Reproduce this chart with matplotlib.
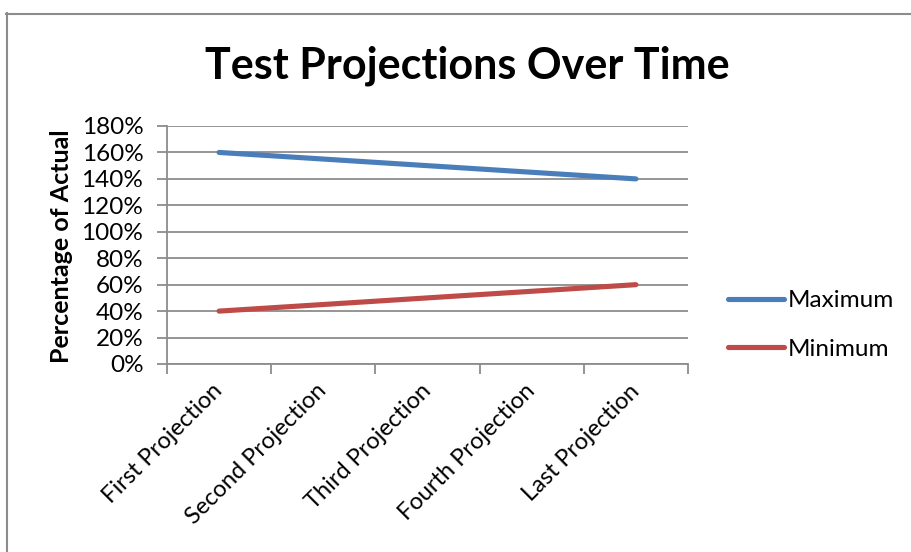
import matplotlib.pyplot as plt
from matplotlib.lines import Line2D
from matplotlib.ticker import FuncFormatter, MultipleLocator

categories = ["First Projection", "Second Projection", "Third Projection",
              "Fourth Projection", "Last Projection"]
maximum = [1.60, 1.55, 1.50, 1.45, 1.40]
minimum = [0.40, 0.45, 0.50, 0.55, 0.60]

plt.rcParams['font.family'] = ['Lato', 'DejaVu Sans']

fig = plt.figure(figsize=(9.11, 5.52), dpi=100)
ax = fig.add_axes([167 / 911, 1 - 364 / 552, 521 / 911, 238 / 552])

x = range(len(categories))
ax.plot(x, maximum, color="#4a7ebb", lw=3.7, solid_capstyle="round", label="Maximum", zorder=3)
ax.plot(x, minimum, color="#be4b48", lw=3.7, solid_capstyle="round", label="Minimum", zorder=3)

ax.set_xlim(-0.5, len(categories) - 0.5)
ax.set_ylim(0, 1.8)
ax.yaxis.set_major_locator(MultipleLocator(0.2))
ax.yaxis.set_major_formatter(FuncFormatter(lambda v, p: f"{v * 100:.0f}%"))
ax.grid(axis="y", color="#8c8c8c", lw=1.3)
ax.set_axisbelow(True)

ax.set_xticks(list(x))
ax.set_xticklabels(categories, rotation=45, ha="right", va="center",
                   rotation_mode="anchor", fontsize=17)
ax.set_xticks([i - 0.5 for i in range(len(categories) + 1)], minor=True)
ax.tick_params(axis="x", which="major", length=0, pad=17)
ax.tick_params(axis="x", which="minor", length=7, width=1.3, color="#8c8c8c")
ax.tick_params(axis="y", length=7, width=1.3, color="#8c8c8c", labelsize=17.5, pad=10)

for s in ["top", "right"]:
    ax.spines[s].set_visible(False)
for s in ["left", "bottom"]:
    ax.spines[s].set_color("#8c8c8c")
    ax.spines[s].set_linewidth(1.3)

ax.set_ylabel("Percentage of Actual", fontsize=18, fontweight="bold")
ax.yaxis.set_label_coords(-0.18, 0.495)
fig.text(467 / 911, 1 - 66 / 552, "Test Projections Over Time", fontsize=31,
         fontweight="bold", ha="center", va="center")

ax.legend(loc="center left", bbox_to_anchor=(728 / 911, 1 - 325 / 552),
          bbox_transform=fig.transFigure, frameon=False, fontsize=17.5,
          borderpad=0, borderaxespad=0, handlelength=2.3, handletextpad=0.16,
          labelspacing=1.12)

# chart border (partly cropped)
fig.add_artist(Line2D([6.5 / 911, 6.5 / 911], [0, 1 - 13 / 552], color="#8c8c8c", lw=1.5))
fig.add_artist(Line2D([6 / 911, 1], [1 - 13.5 / 552, 1 - 13.5 / 552], color="#8c8c8c", lw=1.5))

fig.savefig("out.png", dpi=100)
